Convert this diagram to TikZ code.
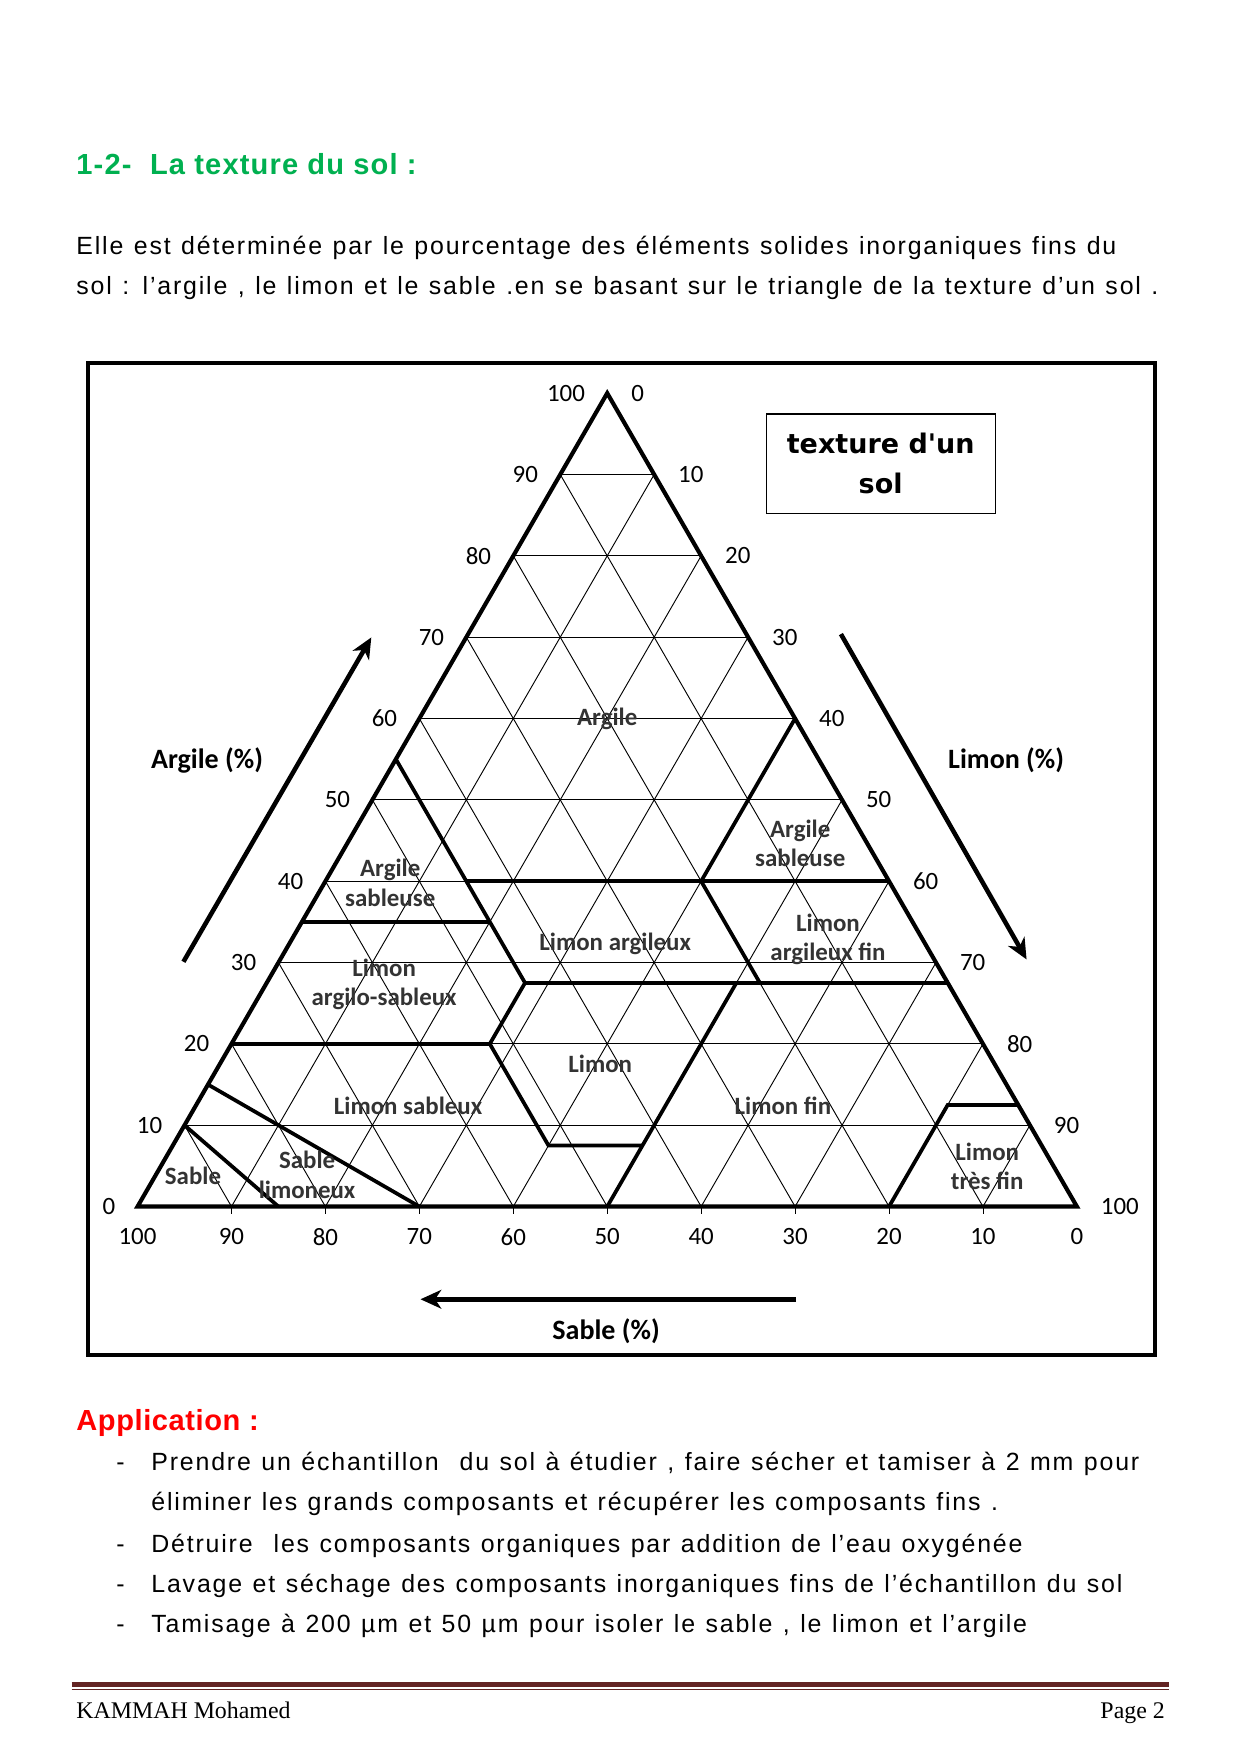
\documentclass[tikz,border=0pt]{standalone}
\usepackage{fontspec}
\setmainfont{Liberation Sans}
\newfontfamily\spaced[LetterSpace=7.3,WordSpace=1.2]{Liberation Sans}
\newfontfamily\carlito{Carlito}
\newfontfamily\boxfont{DejaVu Sans}
\newfontfamily\footfont{Liberation Serif}
\usetikzlibrary{arrows.meta}
\definecolor{titlegreen}{RGB}{0,176,80}
\definecolor{footred}{RGB}{99,36,35}

\begin{document}
\begin{tikzpicture}[
	grid/.style={line width=0.45pt},
	zone/.style={line width=1.8pt},
	num/.style={font=\carlito\fontsize{12}{14}\selectfont, inner sep=0pt},
	region/.style={font=\carlito\bfseries\fontsize{12}{14}\selectfont, text=black!80, align=center, inner sep=0pt},
	axis/.style={font=\carlito\bfseries\fontsize{13.5}{16}\selectfont, inner sep=0pt},
	fleche/.style={line width=2.2pt, -{Stealth[length=10pt,width=9pt,inset=3pt]}},
	body/.style={anchor=base west, inner sep=0pt, font=\spaced\fontsize{12}{14}\selectfont}
]
	\useasboundingbox (0,0) rectangle (21,-29.7);
	\fill[white] (0,0) rectangle (21,-29.7);

	\node[body, text=titlegreen, font=\addfontfeature{LetterSpace=4}\bfseries\fontsize{14}{17}\selectfont] (titre) at (1.287,-2.955) {1-2-\ \ La texture du sol :};
	\node[body] (ligne1) at (1.287,-4.313) {Elle est déterminée par le pourcentage des éléments solides inorganiques fins du};
	\node[body] (ligne2) at (1.287,-4.990) {sol : l’argile , le limon et le sable .en se basant sur le triangle de la texture d’un sol .};

	\draw[line width=2pt] (1.490,-6.148) rectangle (19.561,-22.948);
	\node[draw, line width=0.6pt, minimum width=3.878cm, minimum height=1.677cm, align=center, font=\boxfont\bfseries\fontsize{13}{19}\selectfont] (cadre) at (14.912,-7.85) {texture d'un\\sol};

	\begin{scope}[shift={(2.329,-20.43)}, x={(0.15905cm,0)}, y={(0.079525cm,0.13773cm)}]
		\foreach \k in {10,20,...,90} {
			\draw[grid] (0,\k) -- (100-\k,\k);
			\draw[grid] (\k,0) -- (\k,100-\k);
			\draw[grid] (\k,0) -- (0,\k);
			\draw[grid] (\k,0) -- ++(0pt,-3.5pt);
		}
		\draw[line width=2pt, line join=miter] (0,0) -- (100,0) -- (0,100) -- cycle;

		\draw[zone] (0,55) -- (27.5,27.5) -- (27.5,20) -- (40,7.5) -- (50,7.5);
		\draw[zone] (0,35) -- (20,35);
		\draw[zone] (15,40) -- (60,40);
		\draw[zone] (40,60) -- (40,40) -- (52.5,27.5);
		\draw[zone] (27.5,27.5) -- (72.5,27.5);
		\draw[zone] (0,20) -- (27.5,20);
		\draw[zone] (50,0) -- (50,27.5);
		\draw[zone] (80,0) -- (80,12.5) -- (87.5,12.5);
		\draw[zone] (0,15) -- (30,0);
		\draw[zone] (0,10) -- (15,0);

		\foreach \k in {0,10,...,100} {
			\node[num, anchor=east, xshift=-0.37cm] (ga\k) at (0,\k) {\k};
			\node[num, anchor=west, xshift=0.4cm] (gl\k) at (\k,100-\k) {\k};
			\node[num, anchor=north, yshift=-0.37cm] (gs\k) at (100-\k,0) {\k};
		}

		\node[region] (argile) at (20,60) {Argile};
		\node[region] (asg) at (7,39.8) {Argile\\sableuse};
		\node[region] (asd) at (48.2,44.7) {Argile\\sableuse};
		\node[region] (la) at (34.7,32.3) {Limon argileux};
		\node[region] (laf) at (57.1,32.8) {Limon\\argileux fin};
		\node[region] (las) at (12.6,27.3) {Limon\\argilo-sableux};
		\node[region] (limon) at (40.5,17.5) {Limon};
		\node[region] (ls) at (22.6,12.4) {Limon sableux};
		\node[region] (lf) at (62.5,12.4) {Limon fin};
		\node[region] (sable) at (4,3.8) {Sable};
		\node[region] (sl) at (16.1,3.9) {Sable\\limoneux};
		\node[region] (ltf) at (88,4.9) {Limon\\très fin};
	\end{scope}

	\node[axis] (targ) at (3.506,-12.871) {Argile (\%)};
	\node[axis] (tlim) at (17.037,-12.871) {Limon (\%)};
	\node[axis] (tsab) at (10.263,-22.533) {Sable (\%)};

	\coordinate (argA) at (3.106,-16.285);
	\coordinate (argB) at (6.287,-10.793);
	\coordinate (limA) at (14.239,-10.737);
	\coordinate (limB) at (17.383,-16.246);
	\coordinate (sabA) at (13.481,-22.0);
	\coordinate (sabB) at (7.120,-22.0);
	\draw[fleche] (argA) -- (argB);
	\draw[fleche] (limA) -- (limB);
	\draw[fleche] (sabA) -- (sabB);

	\node[body, text=red, font=\addfontfeature{LetterSpace=2}\bfseries\fontsize{14}{17}\selectfont] (appli) at (1.287,-24.224) {Application :};
	\node[body] (t1) at (1.965,-24.905) {-};
	\node[body] (p1) at (2.557,-24.905) {Prendre un échantillon\ \ du sol à étudier , faire sécher et tamiser à 2 mm pour};
	\node[body] (p1b) at (2.557,-25.585) {éliminer les grands composants et récupérer les composants fins .};
	\node[body] (t2) at (1.965,-26.287) {-};
	\node[body] (p2) at (2.557,-26.287) {Détruire\ \ les composants organiques par addition de l’eau oxygénée};
	\node[body] (t3) at (1.965,-26.964) {-};
	\node[body] (p3) at (2.557,-26.964) {Lavage et séchage des composants inorganiques fins de l’échantillon du sol};
	\node[body] (t4) at (1.965,-27.650) {-};
	\node[body] (p4) at (2.557,-27.650) {Tamisage à 200 µm et 50 µm pour isoler le sable , le limon et l’argile};

	\draw[footred, line width=2.2pt] (1.213,-28.519) -- (19.787,-28.519);
	\draw[footred, line width=0.5pt] (1.213,-28.612) -- (19.787,-28.612);
	\node[body, font=\footfont\fontsize{11.5}{13}\selectfont] (auteur) at (1.287,-29.093) {KAMMAH Mohamed};
	\node[anchor=base east, inner sep=0pt, font=\footfont\fontsize{11.5}{13}\selectfont] (page) at (19.73,-29.093) {Page 2};
\end{tikzpicture}
\end{document}
